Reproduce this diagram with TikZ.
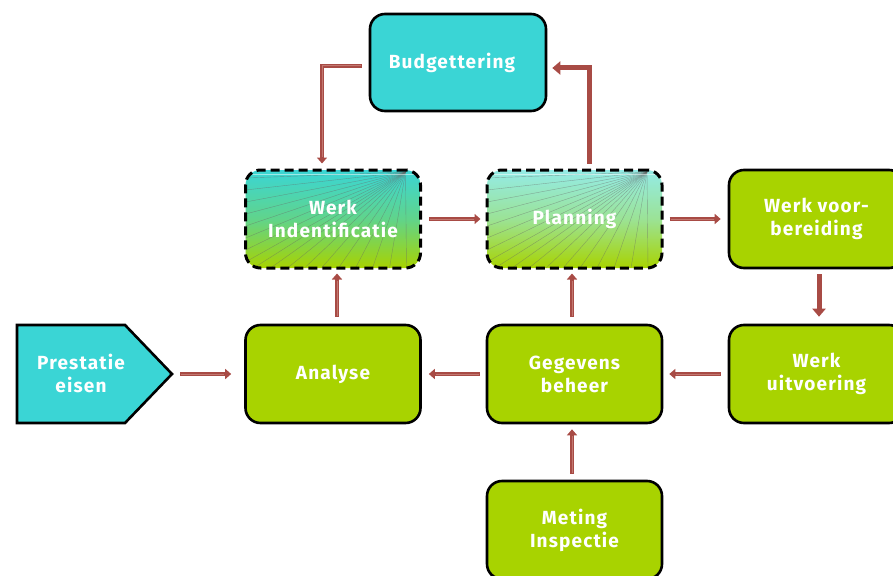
\documentclass[tikz,border=0pt]{standalone}
\usepackage{fontspec}
\setmainfont{Fira Sans}[LetterSpace=6]
\usetikzlibrary{arrows.meta}

\definecolor{aqua}{HTML}{3AD5D5}
\definecolor{paleaqua}{HTML}{94EBE6}
\definecolor{lime}{HTML}{A8D300}
\definecolor{linkred}{HTML}{A84B45}
\definecolor{linklight}{HTML}{C27870}

\tikzset{
  x=1pt, y=-1pt,
  label text/.style={text=white, font=\bfseries\fontsize{19}{23}\selectfont, align=center},
  box/.style={draw=black, line width=2.6pt, rounded corners=15pt,
    minimum width=175pt, minimum height=98pt, inner sep=0pt,
    fill=lime, label text},
  cyanbox/.style={box, fill=aqua},
  % dashed box with vertical gradient and a fan of rays from the top right corner
  fanbox/.style={box, fill=none, dash pattern=on 9pt off 5pt, line width=3pt,
    path picture={
      \shade[top color=#1, bottom color=lime, middle color=#1!65!lime]
        (path picture bounding box.south west) rectangle (path picture bounding box.north east);
      \coordinate (fansrc) at ([shift={(-15pt,-2pt)}]path picture bounding box.north east);
      \foreach \k in {0,...,7}
        \draw[black!60, opacity=.5, line width=.4pt, solid]
          (fansrc) -- ([shift={(0pt,{-8pt-12pt*\k})}]path picture bounding box.north west);
      \foreach \k in {0,...,9}
        \draw[black!60, opacity=.5, line width=.4pt, solid]
          (fansrc) -- ([shift={({8pt+17pt*\k},0pt)}]path picture bounding box.south west);
      \draw[white, opacity=.5, line width=1pt, solid]
        ([shift={(0pt,-4pt)}]path picture bounding box.north west) --
        ([shift={(0pt,-4pt)}]path picture bounding box.north east);
    }},
  link/.style 2 args={draw=linkred, line width=4.6pt, shorten <=#1, shorten >=#2,
    -{Triangle[length=6pt,width=10pt]},
    postaction={draw=linklight, line width=1pt, -, shorten <=#1+1pt, shorten >=#2+7pt}},
  solidlink/.style 2 args={draw=linkred, line width=5pt, shorten <=#1, shorten >=#2,
    -{Triangle[length=8pt,width=13pt]}},
}

\begin{document}
\begin{tikzpicture}
\useasboundingbox (0,0) rectangle (893,575);
\clip (0,0) rectangle (893,575);

% process boxes
\node[cyanbox, minimum width=176pt, minimum height=97pt] (budg) at (458,62.5) {\hspace*{-12pt}Budgettering};
\node[fanbox=aqua] (werkid) at (333,219) {Werk\\Indentificatie};
\node[fanbox=paleaqua] (plan) at (574.5,219) {Planning};
\node[box] (wvb) at (816.5,219) {Werk voor-\\bereiding};
\node[box] (analyse) at (333,374) {Analyse};
\node[box] (geg) at (574.5,374) {Gegevens\\beheer};
\node[box] (wuv) at (816.5,374) {Werk\\uitvoering};
\node[box] (meting) at (574.5,530) {Meting\\Inspectie};

% input pentagon
\draw[fill=aqua, draw=black, line width=2.6pt, line join=miter]
  (17,325) -- (125,325) -- (172,374) -- (125,423) -- (17,423) -- cycle;
\coordinate (prestip) at (172,374);
\node[label text] (prest) at (81,373) {Prestatie\\eisen};

% connectors
\draw[link={8pt}{13pt}] (prestip) -- (analyse.west);
\draw[link={7pt}{4pt}] ([xshift=4pt]analyse.north) -- ([xshift=4pt]werkid.south);
\draw[link={7pt}{5pt}] (werkid.east) -- (plan.west);
\draw[link={6pt}{7pt}] (plan.east) -- (wvb.west);
\draw[solidlink={5pt}{7pt}] ([xshift=2.5pt]wvb.south) -- ([xshift=2.5pt]wuv.north);
\draw[link={7pt}{6pt}] (wuv.west) -- (geg.east);
\draw[link={6pt}{7pt}] (geg.west) -- (analyse.east);
\draw[link={6pt}{5pt}] ([xshift=-2.5pt]meting.north) -- ([xshift=-2.5pt]geg.south);
\draw[link={7pt}{4pt}] ([xshift=-2.5pt]geg.north) -- ([xshift=-2.5pt]plan.south);
\draw[solidlink={5pt}{5pt}] ([xshift=14.5pt]plan.north) |- ([yshift=-5.5pt]budg.east);
\draw[link={7pt}{5pt}] ([yshift=-3.5pt]budg.west) -| ([xshift=-11pt]werkid.north);
\end{tikzpicture}
\end{document}
